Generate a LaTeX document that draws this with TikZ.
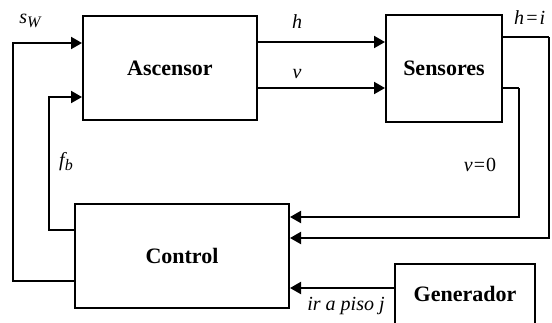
\documentclass[tikz,border=0pt]{standalone}
\usepackage{fontspec}
\setmainfont{Liberation Serif}
\usetikzlibrary{arrows.meta,calc}
\begin{document}
\begin{tikzpicture}[x=1pt,y=-1pt,
  blk/.style={draw,line width=2pt,inner sep=0pt,font=\fontsize{22}{24}\selectfont\bfseries},
  lbl/.style={inner sep=0pt,font=\fontsize{20}{22}\selectfont\itshape},
  conn/.style={line width=2pt,-{Triangle[length=11pt,width=12pt]}},
  wire/.style={line width=2pt}]
\useasboundingbox (0,0) rectangle (552,322);
\clip (0,0) rectangle (552,322);
\node[blk,minimum width=174pt,minimum height=104pt] (asc) at (170,68) {Ascensor};
\node[blk,minimum width=116pt,minimum height=107pt] (sen) at (444,68.5) {Sensores};
\node[blk,minimum width=214pt,minimum height=104pt] (ctl) at (182,256) {Control};
\node[blk,minimum width=140pt,minimum height=80pt] (gen) at (465,304) {};
\node[inner sep=0pt,font=\fontsize{22}{24}\selectfont\bfseries] (gent) at (465,294) {Generador};
% h and v
\draw[conn] ([yshift=26pt]asc.east) -- ([yshift=26pt]asc.east -| sen.west);
\draw[conn] ([yshift=-20pt]asc.east) -- ([yshift=-20pt]asc.east -| sen.west);
% feedback to Ascensor
\coordinate (swl) at (13,43);
\coordinate (fbl) at (49,97);
\draw[conn] ([yshift=-25pt]ctl.west) -| (swl) -- (swl -| asc.west);
\draw[conn] ([yshift=26pt]ctl.west) -| (fbl) -- (fbl -| asc.west);
% sensor outputs to Control
\coordinate (hr) at (549,37);
\coordinate (vr) at (519,88);
\draw[wire] (sen.east |- hr) -- (hr);
\draw[conn] (hr) |- ([yshift=71pt]ctl.south east);
\draw[wire] (sen.east |- vr) -- (vr);
\draw[conn] (vr) |- ([yshift=92pt]ctl.south east);
% generator
\draw[conn] (gen.west |- 0,288) -- (ctl.east |- 0,288);
% labels
\node[lbl] (lsw) at (30,21) {s\raisebox{-4pt}{\fontsize{16}{18}\selectfont W}};
\node[lbl] (lh) at (297,22) {h};
\node[lbl] (lv) at (297,74) {v};
\node[lbl,anchor=west] (lhi) at (514,18) {h\kern1pt=\kern1pt i};
\node[lbl] (lfb) at (66,162) {f\raisebox{-4pt}{\fontsize{16}{18}\selectfont b}};
\node[lbl] (lv0) at (480,165) {v\kern1pt\upshape=\kern1pt0};
\node[lbl] (lir) at (346,306) {ir a piso j};
\end{tikzpicture}
\end{document}
